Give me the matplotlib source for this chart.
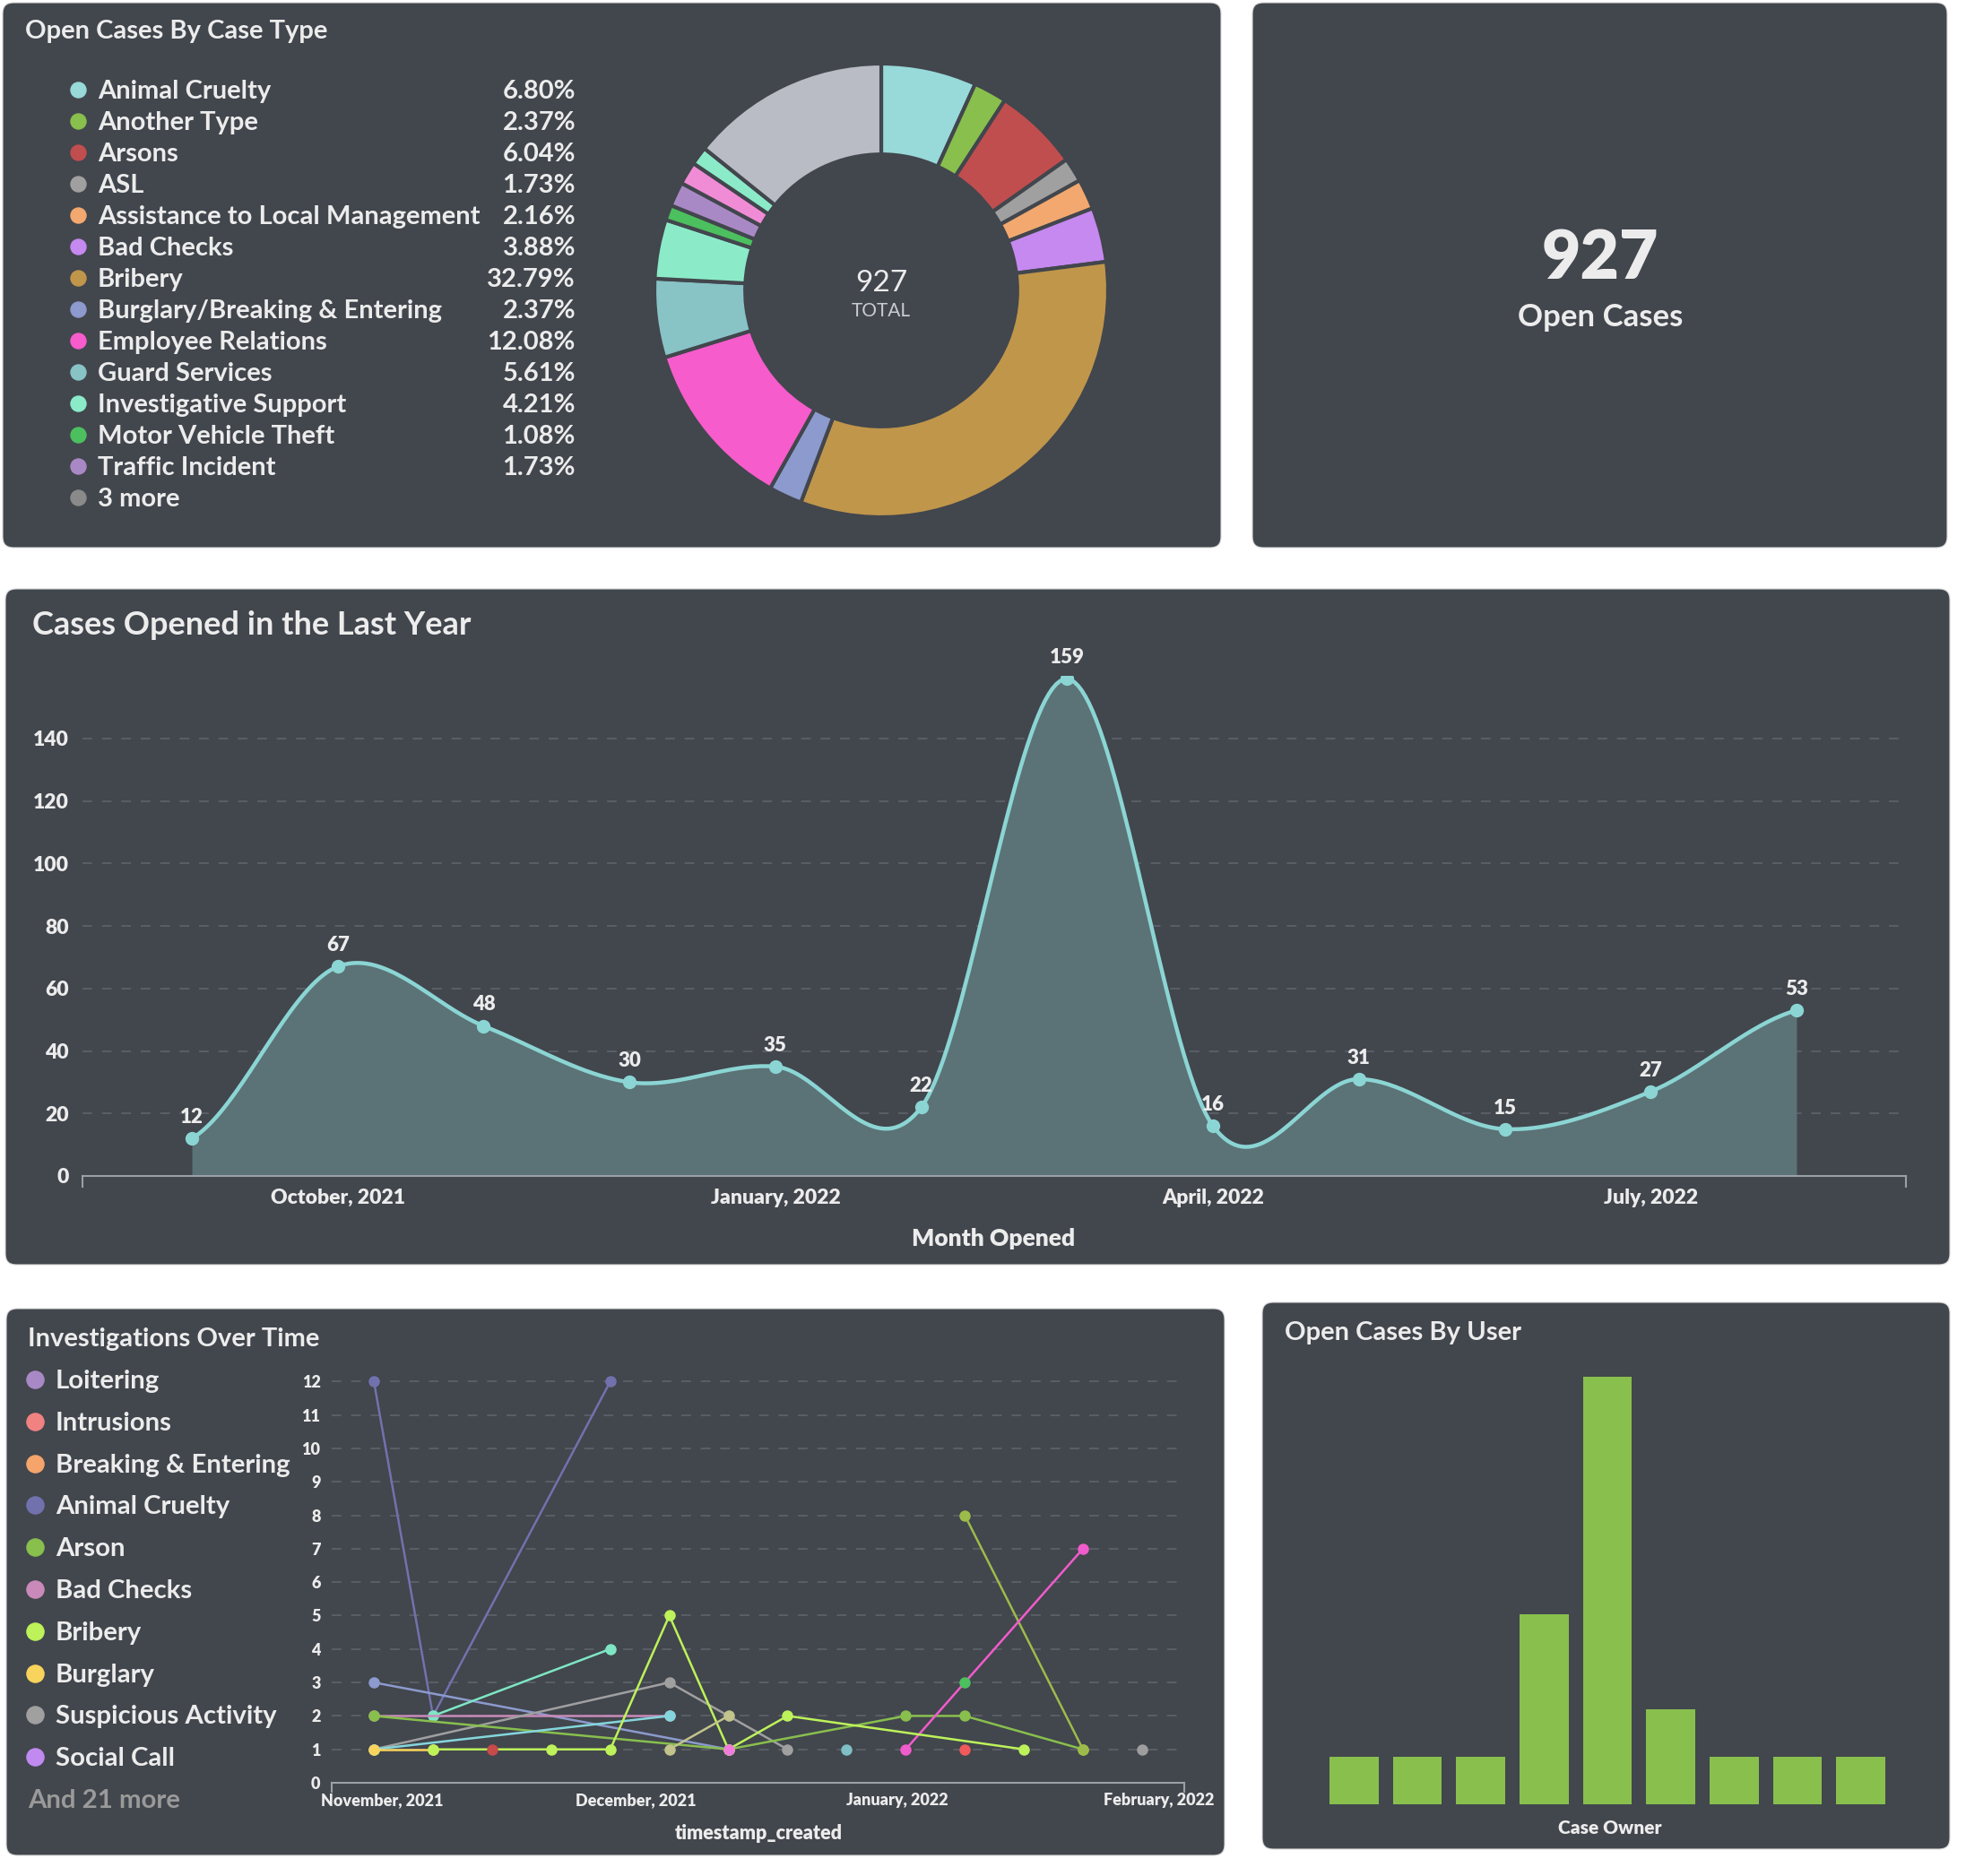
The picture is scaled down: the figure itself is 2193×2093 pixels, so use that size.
import numpy as np
import pandas as pd
import matplotlib
matplotlib.use('Agg')
import matplotlib.pyplot as plt
from matplotlib.patches import FancyBboxPatch

plt.rcParams['font.family'] = ['Lato', 'DejaVu Sans']

# ---- data ----
case_types = ['Animal Cruelty', 'Another Type', 'Arsons', 'ASL', 'Assistance to Local Management',
              'Bad Checks', 'Bribery', 'Burglary/Breaking & Entering', 'Employee Relations',
              'Guard Services', 'Investigative Support', 'Motor Vehicle Theft', 'Traffic Incident']
case_pcts = [6.80, 2.37, 6.04, 1.73, 2.16, 3.88, 32.79, 2.37, 12.08, 5.61, 4.21, 1.08, 1.73]
case_colors = ['#98D9D9', '#88BF4D', '#C14E4E', '#A0A0A0', '#F2A86F', '#C589F0', '#C0964B',
               '#8C9ACD', '#F65CCB', '#88C3C6', '#8BEBC9', '#4CBF5F', '#A989C5']
other_pcts = [1.62, 1.30, 14.23]          # the "3 more" slices
other_colors = ['#F08CD6', '#8BEBC9', '#B9BCC4']
total_cases = 927

months = ['September, 2021', 'October, 2021', 'November, 2021', 'December, 2021',
          'January, 2022', 'February, 2022', 'March, 2022', 'April, 2022',
          'May, 2022', 'June, 2022', 'July, 2022', 'August, 2022']
cases_opened = [12, 67, 48, 30, 35, 22, 159, 16, 31, 15, 27, 53]
month_ticks = [1, 4, 7, 10]

inv_legend = ['Loitering', 'Intrusions', 'Breaking & Entering', 'Animal Cruelty', 'Arson',
              'Bad Checks', 'Bribery', 'Burglary', 'Suspicious Activity', 'Social Call']
inv_legend_colors = ['#A989C5', '#F08282', '#F5A56B', '#7172AD', '#88BF4D',
                     '#C98AB9', '#BDF25A', '#F9D45C', '#A0A0A0', '#C08AF0']
weeks = pd.date_range('2021-10-31', periods=14, freq='7D')
n = np.nan
inv_series = [
    ('#7172AD', [12, 2, n, n, 12, n, n, n, n, n, n, n, n, n]),
    ('#8C9ACD', [3, n, n, n, n, n, 1, n, n, n, n, n, n, n]),
    ('#7EE6C4', [n, 2, n, n, 4, n, n, n, n, n, n, n, n, n]),
    ('#C98AB9', [2, n, n, n, n, 2, n, n, n, n, n, n, n, n]),
    ('#A0A0A0', [1, n, n, n, n, 3, n, 1, n, n, n, n, n, n]),
    ('#88BF4D', [2, n, n, n, n, n, 1, n, n, 2, 2, n, 1, n]),
    ('#84D6DC', [1, n, n, n, n, 2, n, n, n, n, n, n, n, n]),
    ('#9DBB4A', [n, n, n, n, n, n, n, n, n, n, 8, n, 1, n]),
    ('#F05CCB', [n, n, n, n, n, n, n, n, n, 1, n, n, 7, n]),
    ('#F9D45C', [1, 1, n, n, n, n, n, n, n, n, n, n, n, n]),
    ('#BDF25A', [n, 1, n, 1, 1, 5, 1, 2, n, n, n, 1, n, n]),
    ('#C2C48C', [n, n, n, n, n, 1, 2, n, n, n, n, n, n, n]),
    ('#C84A4A', [n, n, 1, n, n, n, n, n, n, n, n, n, n, n]),
    ('#F05A5A', [n, n, n, n, n, n, n, n, n, n, 1, n, n, n]),
    ('#4CBF5F', [n, n, n, n, n, n, n, n, n, n, 3, n, n, n]),
    ('#7FBFC6', [n, n, n, n, n, n, n, n, 1, n, n, n, n, n]),
    ('#F07CDC', [n, n, n, n, n, n, 1, n, n, n, n, n, n, n]),
    ('#9E9E9E', [n, n, n, n, n, n, n, n, n, n, n, n, n, 1]),
]
inv_ticks = pd.to_datetime(['2021-11-01', '2021-12-01', '2022-01-01', '2022-02-01'])
inv_tick_labels = ['November, 2021', 'December, 2021', 'January, 2022', 'February, 2022']

user_cases = [1, 1, 1, 4, 9, 2, 1, 1, 1]

# ---- style ----
PANEL = '#42464D'
TXT = '#ECECEC'
GRID = '#5C6068'
W, H = 2193, 2093


def box(x0, y0, x1, y1):
    return [x0 / W, 1 - y1 / H, (x1 - x0) / W, (y1 - y0) / H]


def catmull_rom(y, steps=40):
    p = np.concatenate([[y[0]], y, [y[-1]]]).astype(float)
    xs, ys = [], []
    t = np.linspace(0, 1, steps, endpoint=False)
    for i in range(len(y) - 1):
        p0, p1, p2, p3 = p[i:i + 4]
        yy = 0.5 * (2 * p1 + (p2 - p0) * t + (2 * p0 - 5 * p1 + 4 * p2 - p3) * t ** 2
                    + (3 * p1 - p0 - 3 * p2 + p3) * t ** 3)
        xs.append(i + t)
        ys.append(yy)
    xs.append([len(y) - 1])
    ys.append([y[-1]])
    return np.concatenate(xs), np.concatenate(ys)


def style_axis(a, size, xpad, ypad):
    a.set_facecolor('none')
    a.grid(axis='y', color=GRID, linestyle=(0, (6, 6)), lw=1.3)
    a.set_axisbelow(True)
    a.tick_params(length=0, colors=TXT, labelsize=size)
    a.tick_params(axis='y', pad=ypad)
    a.tick_params(axis='x', pad=xpad)
    for lab in a.get_xticklabels() + a.get_yticklabels():
        lab.set_fontweight('heavy')
    for s in ['top', 'right', 'left']:
        a.spines[s].set_visible(False)
    a.spines['bottom'].set_color('#9AA0A8')
    a.spines['bottom'].set_linewidth(1.5)
    for xe in a.get_xlim():
        a.plot([xe, xe], [0, -0.022], transform=a.get_xaxis_transform(), color='#9AA0A8',
               lw=1.5, clip_on=False)


fig = plt.figure(figsize=(W / 100, H / 100), dpi=100, facecolor='white')
bg = fig.add_axes([0, 0, 1, 1])
bg.set_xlim(0, W)
bg.set_ylim(H, 0)
bg.axis('off')

for x0, y0, x1, y1 in [(3, 3, 1362, 611), (1397, 3, 2172, 611), (6, 657, 2175, 1411),
                       (7, 1460, 1366, 2070), (1408, 1453, 2175, 2063)]:
    bg.add_patch(FancyBboxPatch((x0, y0), x1 - x0, y1 - y0,
                                boxstyle='round,pad=0,rounding_size=12',
                                fc=PANEL, ec='#D8D8D8', lw=0.8))

# ---- panel 1: donut ----
bg.text(28, 35, 'Open Cases By Case Type', color=TXT, fontsize=21, fontweight='bold', va='center')
legend_names = case_types + ['3 more']
legend_cols = case_colors + ['#8A8A8A']
for i, (name, col) in enumerate(zip(legend_names, legend_cols)):
    y = 102 + 35 * i
    bg.scatter([87], [y - 2], s=150, color=col, zorder=3)
    bg.text(109, y, name, color=TXT, fontsize=21, fontweight='bold', va='center')
    if i < len(case_pcts):
        bg.text(642, y, f'{case_pcts[i]:.2f}%', color=TXT, fontsize=21, fontweight='bold',
                va='center', ha='right')

axd = fig.add_axes(box(730, 71, 1236, 577))
axd.pie(case_pcts + other_pcts, colors=case_colors + other_colors, startangle=90,
        counterclock=False, radius=1,
        wedgeprops=dict(width=0.4, edgecolor=PANEL, linewidth=3))
axd.set_xlim(-1.0, 1.0)
axd.set_ylim(-1.0, 1.0)
axd.text(0, 0.03, str(total_cases), color=TXT, fontsize=24, ha='center', va='center')
axd.text(0, -0.09, 'TOTAL', color='#C9CBD0', fontsize=15, ha='center', va='center')

# ---- panel 2: big number ----
bg.text(1785, 289, str(total_cases), color=TXT, fontsize=54, fontweight='heavy', ha='center', va='center')
bg.text(1785, 354, 'Open Cases', color=TXT, fontsize=25, fontweight='bold', ha='center', va='center')

# ---- panel 3: cases opened in the last year ----
bg.text(36, 698, 'Cases Opened in the Last Year', color=TXT, fontsize=26, fontweight='bold', va='center')
ax = fig.add_axes(box(92, 754, 2126, 1312))
xs, ys = catmull_rom(cases_opened)
ax.fill_between(xs, ys, 0, color='#5B7376', lw=0, zorder=1)
ax.plot(xs, ys, color='#8BD5D4', lw=3.2, zorder=3)
ax.plot(range(len(cases_opened)), cases_opened, 'o', color='#8BD5D4', ms=10, zorder=4)
for i, v in enumerate(cases_opened):
    ax.annotate(str(v), (i, v), xytext=(0, 17), textcoords='offset points', ha='center',
                va='center', color=TXT, fontsize=16, fontweight='heavy')
ax.set_xlim(-0.75, 11.75)
ax.set_ylim(0, 160)
ax.set_yticks(range(0, 141, 20))
ax.set_xticks(month_ticks)
ax.set_xticklabels([months[i] for i in month_ticks])
style_axis(ax, 16.5, 10, 11)
bg.text(1108, 1382, 'Month Opened', color=TXT, fontsize=19, fontweight='heavy', ha='center', va='center')

# ---- panel 4: investigations over time ----
bg.text(31, 1494, 'Investigations Over Time', color=TXT, fontsize=21, fontweight='bold', va='center')
for i, (name, col) in enumerate(zip(inv_legend, inv_legend_colors)):
    y = 1541 + 46.8 * i
    bg.scatter([39], [y - 2], s=190, color=col, zorder=3)
    bg.text(62, y, name, color=TXT, fontsize=21.2, fontweight='bold', va='center')
bg.text(31, 1541 + 46.8 * 10, 'And 21 more', color='#9A9A9A', fontsize=21.2, fontweight='bold', va='center')

ax2 = fig.add_axes(box(370, 1519, 1321, 1989))
for col, vals in inv_series:
    vals = np.array(vals, dtype=float)
    m = ~np.isnan(vals)
    ax2.plot(weeks[m], vals[m], '-o', color=col, lw=1.8, ms=8, zorder=3)
ax2.set_xlim(pd.Timestamp('2021-10-26'), pd.Timestamp('2022-02-04'))
ax2.set_ylim(0, 12.6)
ax2.set_yticks(range(0, 13))
ax2.set_xticks(inv_ticks)
ax2.set_xticklabels(inv_tick_labels)
style_axis(ax2, 13, 8, 9)
bg.text(846, 2046, 'timestamp_created', color=TXT, fontsize=15.5, fontweight='heavy', ha='center', va='center')

# ---- panel 5: open cases by user ----
bg.text(1433, 1487, 'Open Cases By User', color=TXT, fontsize=21, fontweight='bold', va='center')
ax3 = fig.add_axes(box(1475, 1525, 2111, 2013))
ax3.set_facecolor('none')
ax3.bar(range(len(user_cases)), user_cases, width=0.77, color='#88BF4D')
ax3.set_xlim(-0.5, len(user_cases) - 0.5)
ax3.set_ylim(0, 9.2)
ax3.axis('off')
bg.text(1796, 2039, 'Case Owner', color=TXT, fontsize=15, fontweight='heavy', ha='center', va='center')

fig.savefig('out.png', dpi=100, facecolor='white')
